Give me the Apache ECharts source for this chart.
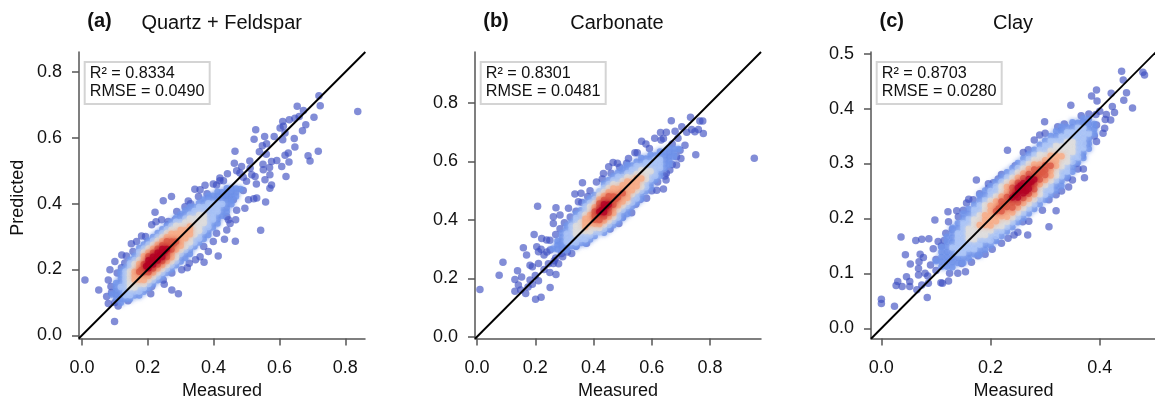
<!DOCTYPE html>
<html><head><meta charset="utf-8">
<style>html,body{margin:0;padding:0;background:#fff;overflow:hidden}#c{width:1155px;height:402px}</style>
<script src="https://cdn.jsdelivr.net/npm/echarts@6/dist/echarts.min.js"></script>
</head><body><div id="c"></div>
<script>
// Sparse points: [measured, predicted]
const quartzSparse=[[.009,.168],[.051,.138],[.099,.042],[.08,.168],[.085,.199],[.10,.224],[.121,.244],[.135,.241],[.166,.285],[.181,.302],[.212,.336],[.222,.374],[.247,.409],[.272,.422],[.242,.351],[.262,.346],[.283,.351],[.313,.391],[.323,.408],[.343,.444],[.354,.422],[.374,.456],[.384,.417],[.409,.457],[.419,.478],[.442,.491],[.463,.523],[.465,.559],[.485,.513],[.511,.508],[.539,.558],[.528,.625],[.523,.596],[.555,.604],[.548,.576],[.561,.582],[.584,.604],[.61,.65],[.612,.635],[.602,.63],[.63,.655],[.617,.615],[.61,.594],[.654,.696],[.647,.66],[.66,.665],[.673,.683],[.68,.64],[.67,.622],[.705,.663],[.72,.728],[.724,.698],[.838,.68],[.718,.559],[.687,.546],[.693,.53],[.645,.598],[.647,.572],[.627,.554],[.617,.547],[.629,.527],[.62,.483],[.607,.513],[.592,.531],[.576,.528],[.571,.488],[.576,.457],[.571,.447],[.556,.473],[.558,.405],[.531,.417],[.543,.319],[.466,.286],[.433,.292],[.414,.241],[.399,.285],[.384,.255],[.371,.222],[.359,.239],[.326,.219],[.303,.199],[.293,.126],[.273,.138],[.209,.126],[.212,.148],[.191,.14],[.247,.168],[.273,.189],[.44,.32],[.467,.351],[.445,.351],[.495,.386],[.506,.412],[.522,.415],[.46,.412],[.48,.493],[.5,.468],[.526,.483],[.551,.503],[.516,.488],[.409,.31],[.11,.089],[.08,.097],[.075,.118],[.088,.148],[.107,.189],[.127,.13],[.15,.278],[.193,.30],[.359,.442],[.399,.46],[.419,.47],[.333,.366],[.288,.376],[.225,.345],[.44,.36],[.47,.38],[.49,.44],[.53,.46],[.55,.52],[.49,.48],[.57,.51],[.45,.34],[.37,.27],[.345,.23],[.32,.205],[.25,.155],[.17,.13],[.14,.105],[.10,.10],[.09,.13],[.13,.22],[.12,.205],[.155,.255],[.20,.285],[.26,.335],[.30,.36],[.33,.40],[.38,.43],[.43,.47],[.47,.50],[.51,.53],[.56,.55]];
const carbonateSparse=[[.01,.162],[.076,.211],[.089,.255],[.13,.196],[.139,.226],[.13,.156],[.142,.177],[.159,.305],[.153,.205],[.17,.28],[.167,.148],[.182,.245],[.182,.194],[.201,.128],[.22,.135],[.211,.192],[.196,.35],[.222,.336],[.208,.447],[.271,.442],[.262,.411],[.262,.388],[.251,.169],[.271,.213],[.262,.251],[.211,.251],[.205,.308],[.211,.291],[.23,.28],[.239,.331],[.251,.297],[.294,.274],[.285,.417],[.314,.44],[.336,.489],[.357,.491],[.362,.527],[.348,.462],[.388,.5],[.434,.559],[.452,.582],[.467,.597],[.482,.594],[.514,.594],[.542,.63],[.565,.669],[.592,.645],[.63,.699],[.64,.679],[.667,.74],[.68,.704],[.703,.719],[.733,.752],[.765,.739],[.775,.739],[.737,.71],[.76,.71],[.748,.702],[.777,.696],[.751,.623],[.952,.611],[.714,.656],[.685,.588],[.649,.537],[.645,.55],[.64,.506],[.617,.502],[.582,.474],[.531,.425],[.487,.388],[.457,.369],[.545,.454],[.376,.32],[.325,.285],[.685,.616],[.662,.571],[.697,.639],[.632,.674],[.19,.24],[.20,.21],[.23,.23],[.245,.25],[.25,.22],[.265,.26],[.28,.25],[.24,.29],[.22,.30],[.25,.33],[.27,.35],[.285,.37],[.30,.39],[.32,.41],[.34,.43],[.36,.46],[.38,.48],[.41,.53],[.43,.54],[.46,.56],[.49,.58],[.52,.61],[.55,.63],[.58,.66],[.61,.68],[.65,.70],[.69,.68],[.72,.70],[.67,.66],[.70,.61],[.67,.59],[.65,.56],[.62,.53],[.60,.50],[.50,.41],[.56,.47],[.42,.37],[.34,.31],[.31,.29],[.29,.285],[.27,.27],[.175,.17],[.15,.16],[.19,.18]];
const claySparse=[[0,.053],[0,.045],[.024,.04],[.036,.166],[.03,.085],[.027,.078],[.038,.076],[.046,.094],[.052,.085],[.052,.076],[.044,.134],[.053,.117],[.063,.16],[.074,.162],[.087,.163],[.071,.135],[.069,.121],[.077,.129],[.068,.109],[.068,.097],[.065,.07],[.074,.079],[.084,.056],[.086,.082],[.098,.197],[.109,.083],[.112,.082],[.123,.086],[.154,.103],[.147,.118],[.177,.132],[.203,.144],[.208,.161],[.232,.164],[.243,.17],[.268,.17],[.259,.194],[.307,.185],[.32,.214],[.32,.243],[.307,.234],[.287,.232],[.343,.257],[.372,.274],[.37,.29],[.357,.30],[.341,.274],[.368,.314],[.394,.34],[.406,.355],[.409,.364],[.42,.379],[.427,.393],[.412,.389],[.394,.37],[.393,.389],[.385,.423],[.394,.434],[.395,.414],[.421,.428],[.423,.404],[.444,.415],[.449,.429],[.46,.401],[.44,.468],[.443,.452],[.479,.466],[.482,.461],[.347,.406],[.366,.387],[.299,.376],[.323,.367],[.335,.372],[.29,.352],[.28,.343],[.269,.325],[.231,.324],[.245,.296],[.174,.27],[.214,.272],[.196,.263],[.196,.255],[.168,.234],[.156,.228],[.138,.214],[.122,.212],[.123,.194],[.141,.203],[.118,.173],[.104,.158],[.08,.10],[.09,.115],[.10,.125],[.10,.105],[.085,.095],[.095,.145],[.11,.15],[.115,.16],[.13,.18],[.15,.215],[.16,.235],[.18,.245],[.205,.265],[.22,.28],[.26,.32],[.30,.355],[.33,.36],[.37,.375],[.38,.39],[.40,.395],[.41,.38],[.39,.35],[.375,.335],[.36,.29],[.35,.27],[.33,.25],[.295,.215],[.27,.195],[.25,.175],[.22,.155],[.19,.135],[.165,.12],[.14,.10],[.125,.10]];
// Dense cloud: [measured, predicted, density level 1-6]
const quartzDense=[
[.195,.21,6],[.209,.222,6],[.223,.233,6],[.237,.245,6],[.251,.256,6],[.181,.199,5],[.265,.267,5],[.279,.279,5],
[.09,.124,1],[.104,.135,1],[.118,.147,2],[.132,.158,2],[.146,.17,3],[.16,.181,4],[.174,.193,5],[.188,.204,5],[.202,.216,6],[.216,.227,6],[.23,.239,6],[.244,.25,6],[.258,.262,6],[.272,.273,5],[.286,.285,5],[.3,.296,4],[.314,.307,4],[.328,.319,4],[.342,.33,3],[.356,.342,3],[.37,.353,3],[.384,.365,2],[.398,.376,2],[.412,.388,2],[.426,.399,2],[.44,.411,1],[.454,.422,1],[.468,.434,1],[.482,.445,1],
[.104,.147,1],[.118,.159,1],[.132,.17,2],[.146,.182,3],[.16,.193,4],[.174,.205,4],[.188,.216,5],[.202,.228,6],[.216,.239,6],[.23,.251,6],[.244,.262,6],[.258,.274,5],[.272,.285,5],[.286,.297,4],[.3,.308,4],[.314,.319,4],[.328,.331,4],[.342,.342,3],[.356,.354,3],[.37,.365,3],[.384,.377,2],[.398,.388,2],[.412,.4,2],[.426,.411,1],[.44,.423,1],[.454,.434,1],[.468,.446,1],
[.104,.123,1],[.118,.135,1],[.132,.146,2],[.146,.158,3],[.16,.169,4],[.174,.181,4],[.188,.192,5],[.202,.204,6],[.216,.215,6],[.23,.227,6],[.244,.238,6],[.258,.25,5],[.272,.261,5],[.286,.273,4],[.3,.284,4],[.314,.295,4],[.328,.307,4],[.342,.318,3],[.356,.33,3],[.37,.341,3],[.384,.353,2],[.398,.364,2],[.412,.376,2],[.426,.387,1],[.44,.399,1],[.454,.41,1],[.468,.422,1],
[.104,.159,1],[.118,.171,1],[.132,.182,2],[.146,.194,3],[.16,.205,3],[.174,.217,4],[.188,.228,4],[.202,.24,5],[.216,.251,5],[.23,.263,5],[.244,.274,5],[.258,.286,5],[.272,.297,4],[.286,.309,4],[.3,.32,4],[.314,.331,3],[.328,.343,3],[.342,.354,3],[.356,.366,3],[.37,.377,2],[.384,.389,2],[.398,.4,2],[.412,.412,1],[.426,.423,1],[.44,.435,1],[.454,.446,1],
[.104,.111,1],[.118,.123,1],[.132,.134,2],[.146,.146,3],[.16,.157,3],[.174,.169,4],[.188,.18,4],[.202,.192,5],[.216,.203,5],[.23,.215,5],[.244,.226,5],[.258,.238,5],[.272,.249,4],[.286,.261,4],[.3,.272,4],[.314,.283,3],[.328,.295,3],[.342,.306,3],[.356,.318,3],[.37,.329,2],[.384,.341,2],[.398,.352,2],[.412,.364,1],[.426,.375,1],[.44,.387,1],[.454,.398,1],
[.118,.183,1],[.132,.194,2],[.146,.206,2],[.16,.217,3],[.174,.229,3],[.188,.24,4],[.202,.252,4],[.216,.263,4],[.23,.275,4],[.244,.286,4],[.258,.298,4],[.272,.309,4],[.286,.321,3],[.3,.332,3],[.314,.343,3],[.328,.355,3],[.342,.366,2],[.356,.378,2],[.37,.389,2],[.384,.401,2],[.398,.412,1],[.412,.424,1],[.426,.435,1],[.44,.447,1],
[.118,.111,1],[.132,.122,2],[.146,.134,2],[.16,.145,3],[.174,.157,3],[.188,.168,4],[.202,.18,4],[.216,.191,4],[.23,.203,4],[.244,.214,4],[.258,.226,4],[.272,.237,4],[.286,.249,3],[.3,.26,3],[.314,.271,3],[.328,.283,3],[.342,.294,2],[.356,.306,2],[.37,.317,2],[.384,.329,2],[.398,.34,1],[.412,.352,1],[.426,.363,1],[.44,.375,1],
[.118,.195,1],[.132,.206,1],[.146,.218,2],[.16,.229,2],[.174,.241,2],[.188,.252,3],[.202,.264,3],[.216,.275,3],[.23,.287,3],[.244,.298,3],[.258,.31,3],[.272,.321,3],[.286,.333,3],[.3,.344,2],[.314,.355,2],[.328,.367,2],[.342,.378,2],[.356,.39,2],[.37,.401,1],[.384,.413,1],[.398,.424,1],[.412,.436,1],
[.118,.099,1],[.132,.11,1],[.146,.122,2],[.16,.133,2],[.174,.145,2],[.188,.156,3],[.202,.168,3],[.216,.179,3],[.23,.191,3],[.244,.202,3],[.258,.214,3],[.272,.225,3],[.286,.237,3],[.3,.248,2],[.314,.259,2],[.328,.271,2],[.342,.282,2],[.356,.294,2],[.37,.305,1],[.384,.317,1],[.398,.328,1],[.412,.34,1],
[.146,.23,1],[.16,.241,1],[.174,.253,2],[.188,.264,2],[.202,.276,2],[.216,.287,2],[.23,.299,2],[.244,.31,2],[.258,.322,2],[.272,.333,2],[.286,.345,2],[.3,.356,1],[.314,.367,1],[.328,.379,1],[.342,.39,1],[.356,.402,1],[.37,.413,1],[.384,.425,1],
[.146,.11,1],[.16,.121,1],[.174,.133,2],[.188,.144,2],[.202,.156,2],[.216,.167,2],[.23,.179,2],[.244,.19,2],[.258,.202,2],[.272,.213,2],[.286,.225,2],[.3,.236,1],[.314,.247,1],[.328,.259,1],[.342,.27,1],[.356,.282,1],[.37,.293,1],[.384,.305,1],
[.174,.265,1],[.188,.276,1],[.202,.288,1],[.216,.299,1],[.23,.311,1],[.244,.322,1],[.258,.334,1],[.272,.345,1],[.286,.357,1],[.3,.368,1],[.314,.379,1],[.328,.391,1],
[.174,.121,1],[.188,.132,1],[.202,.144,1],[.216,.155,1],[.23,.167,1],[.244,.178,1],[.258,.19,1],[.272,.201,1],[.286,.213,1],[.3,.224,1],[.314,.235,1],[.328,.247,1]];
const carbonateDense=[
[.428,.434,6],[.444,.447,6],[.412,.421,5],[.46,.46,5],[.476,.472,5],
[.26,.301,1],[.276,.314,1],[.292,.327,1],[.308,.339,2],[.324,.352,2],[.34,.365,3],[.356,.377,3],[.372,.39,4],[.388,.403,4],[.404,.415,5],[.42,.428,6],[.436,.44,6],[.452,.453,6],[.468,.466,5],[.484,.478,5],[.5,.491,5],[.516,.504,4],[.532,.516,4],[.548,.529,4],[.564,.542,4],[.58,.554,3],[.596,.567,3],[.612,.579,2],[.628,.592,2],[.644,.605,1],[.66,.617,1],[.676,.63,1],[.692,.643,1],
[.276,.328,1],[.292,.341,1],[.308,.353,2],[.324,.366,2],[.34,.379,3],[.356,.391,3],[.372,.404,4],[.388,.417,4],[.404,.429,5],[.42,.442,5],[.436,.454,6],[.452,.467,5],[.468,.48,5],[.484,.492,4],[.5,.505,4],[.516,.518,4],[.532,.53,4],[.548,.543,4],[.564,.556,3],[.58,.568,3],[.596,.581,2],[.612,.593,2],[.628,.606,2],[.644,.619,1],[.66,.631,1],[.676,.644,1],
[.276,.3,1],[.292,.313,1],[.308,.325,2],[.324,.338,2],[.34,.351,3],[.356,.363,3],[.372,.376,4],[.388,.389,4],[.404,.401,5],[.42,.414,5],[.436,.426,6],[.452,.439,5],[.468,.452,5],[.484,.464,4],[.5,.477,4],[.516,.49,4],[.532,.502,4],[.548,.515,4],[.564,.528,3],[.58,.54,3],[.596,.553,2],[.612,.565,2],[.628,.578,2],[.644,.591,1],[.66,.603,1],[.676,.616,1],
[.292,.355,1],[.308,.367,1],[.324,.38,2],[.34,.393,2],[.356,.405,2],[.372,.418,3],[.388,.431,3],[.404,.443,4],[.42,.456,5],[.436,.468,5],[.452,.481,5],[.468,.494,4],[.484,.506,4],[.5,.519,4],[.516,.532,4],[.532,.544,3],[.548,.557,3],[.564,.57,3],[.58,.582,2],[.596,.595,2],[.612,.607,2],[.628,.62,1],[.644,.633,1],[.66,.645,1],
[.292,.299,1],[.308,.311,1],[.324,.324,2],[.34,.337,2],[.356,.349,2],[.372,.362,3],[.388,.375,3],[.404,.387,4],[.42,.4,5],[.436,.412,5],[.452,.425,5],[.468,.438,4],[.484,.45,4],[.5,.463,4],[.516,.476,4],[.532,.488,3],[.548,.501,3],[.564,.514,3],[.58,.526,2],[.596,.539,2],[.612,.551,2],[.628,.564,1],[.644,.577,1],[.66,.589,1],
[.308,.381,1],[.324,.394,1],[.34,.407,2],[.356,.419,2],[.372,.432,2],[.388,.445,3],[.404,.457,3],[.42,.47,4],[.436,.482,4],[.452,.495,4],[.468,.508,4],[.484,.52,3],[.5,.533,3],[.516,.546,3],[.532,.558,2],[.548,.571,2],[.564,.584,2],[.58,.596,2],[.596,.609,1],[.612,.621,1],[.628,.634,1],
[.308,.297,1],[.324,.31,1],[.34,.323,2],[.356,.335,2],[.372,.348,2],[.388,.361,3],[.404,.373,3],[.42,.386,4],[.436,.398,4],[.452,.411,4],[.468,.424,4],[.484,.436,3],[.5,.449,3],[.516,.462,3],[.532,.474,2],[.548,.487,2],[.564,.5,2],[.58,.512,2],[.596,.525,1],[.612,.537,1],[.628,.55,1],
[.34,.421,1],[.356,.433,1],[.372,.446,2],[.388,.459,2],[.404,.471,2],[.42,.484,3],[.436,.496,3],[.452,.509,3],[.468,.522,3],[.484,.534,2],[.5,.547,2],[.516,.56,2],[.532,.572,2],[.548,.585,2],[.564,.598,1],[.58,.61,1],[.596,.623,1],
[.34,.309,1],[.356,.321,1],[.372,.334,2],[.388,.347,2],[.404,.359,2],[.42,.372,3],[.436,.384,3],[.452,.397,3],[.468,.41,3],[.484,.422,2],[.5,.435,2],[.516,.448,2],[.532,.46,2],[.548,.473,2],[.564,.486,1],[.58,.498,1],[.596,.511,1],
[.372,.46,1],[.388,.473,1],[.404,.485,1],[.42,.498,2],[.436,.51,2],[.452,.523,2],[.468,.536,2],[.484,.548,2],[.5,.561,1],[.516,.574,1],[.532,.586,1],[.548,.599,1],[.564,.612,1],
[.372,.32,1],[.388,.333,1],[.404,.345,1],[.42,.358,2],[.436,.37,2],[.452,.383,2],[.468,.396,2],[.484,.408,2],[.5,.421,1],[.516,.434,1],[.532,.446,1],[.548,.459,1],[.564,.472,1],
[.436,.524,1],[.452,.537,1],[.468,.55,1],[.484,.562,1],[.5,.575,1],[.516,.588,1],
[.436,.356,1],[.452,.369,1],[.468,.382,1],[.484,.394,1],[.5,.407,1],[.516,.42,1]];
const clayDense=[
[.245,.242,6],[.255,.251,6],[.265,.259,6],[.275,.267,6],[.235,.234,5],[.225,.226,5],[.285,.276,5],[.295,.284,5],[.215,.218,5],[.255,.26,6],[.265,.25,6],[.245,.251,5],[.275,.258,5],
[.1,.122,1],[.11,.13,1],[.12,.139,1],[.13,.147,2],[.14,.155,2],[.15,.164,2],[.16,.172,3],[.17,.18,3],[.18,.188,4],[.19,.197,4],[.2,.205,4],[.21,.213,5],[.22,.222,5],[.23,.23,5],[.24,.238,6],[.25,.247,6],[.26,.255,6],[.27,.263,6],[.28,.271,6],[.29,.28,5],[.3,.288,5],[.31,.296,5],[.32,.305,4],[.33,.313,4],[.34,.321,3],[.35,.33,3],[.36,.338,2],[.37,.346,2],[.38,.354,2],[.39,.363,1],
[.11,.139,1],[.12,.148,1],[.13,.156,1],[.14,.164,2],[.15,.173,2],[.16,.181,3],[.17,.189,3],[.18,.197,3],[.19,.206,4],[.2,.214,4],[.21,.222,4],[.22,.231,5],[.23,.239,5],[.24,.247,5],[.25,.256,6],[.26,.264,6],[.27,.272,6],[.28,.28,5],[.29,.289,5],[.3,.297,5],[.31,.305,4],[.32,.314,4],[.33,.322,3],[.34,.33,3],[.35,.339,3],[.36,.347,2],[.37,.355,2],[.38,.363,1],[.39,.372,1],
[.11,.121,1],[.12,.13,1],[.13,.138,1],[.14,.146,2],[.15,.155,2],[.16,.163,3],[.17,.171,3],[.18,.179,3],[.19,.188,4],[.2,.196,4],[.21,.204,4],[.22,.213,5],[.23,.221,5],[.24,.229,5],[.25,.238,6],[.26,.246,6],[.27,.254,6],[.28,.262,5],[.29,.271,5],[.3,.279,5],[.31,.287,4],[.32,.296,4],[.33,.304,3],[.34,.312,3],[.35,.321,3],[.36,.329,2],[.37,.337,2],[.38,.345,1],[.39,.354,1],
[.11,.148,1],[.12,.157,1],[.13,.165,1],[.14,.173,2],[.15,.182,2],[.16,.19,2],[.17,.198,3],[.18,.206,3],[.19,.215,3],[.2,.223,4],[.21,.231,4],[.22,.24,4],[.23,.248,4],[.24,.256,5],[.25,.265,5],[.26,.273,5],[.27,.281,5],[.28,.289,5],[.29,.298,4],[.3,.306,4],[.31,.314,4],[.32,.323,3],[.33,.331,3],[.34,.339,3],[.35,.348,2],[.36,.356,2],[.37,.364,2],[.38,.372,1],
[.11,.112,1],[.12,.121,1],[.13,.129,1],[.14,.137,2],[.15,.146,2],[.16,.154,2],[.17,.162,3],[.18,.17,3],[.19,.179,3],[.2,.187,4],[.21,.195,4],[.22,.204,4],[.23,.212,4],[.24,.22,5],[.25,.229,5],[.26,.237,5],[.27,.245,5],[.28,.253,5],[.29,.262,4],[.3,.27,4],[.31,.278,4],[.32,.287,3],[.33,.295,3],[.34,.303,3],[.35,.312,2],[.36,.32,2],[.37,.328,2],[.38,.336,1],
[.12,.166,1],[.13,.174,1],[.14,.182,1],[.15,.191,2],[.16,.199,2],[.17,.207,2],[.18,.215,2],[.19,.224,3],[.2,.232,3],[.21,.24,3],[.22,.249,3],[.23,.257,4],[.24,.265,4],[.25,.274,4],[.26,.282,4],[.27,.29,4],[.28,.298,4],[.29,.307,3],[.3,.315,3],[.31,.323,3],[.32,.332,3],[.33,.34,2],[.34,.348,2],[.35,.357,2],[.36,.365,2],[.37,.373,1],[.38,.381,1],
[.12,.112,1],[.13,.12,1],[.14,.128,1],[.15,.137,2],[.16,.145,2],[.17,.153,2],[.18,.161,2],[.19,.17,3],[.2,.178,3],[.21,.186,3],[.22,.195,3],[.23,.203,4],[.24,.211,4],[.25,.22,4],[.26,.228,4],[.27,.236,4],[.28,.244,4],[.29,.253,3],[.3,.261,3],[.31,.269,3],[.32,.278,3],[.33,.286,2],[.34,.294,2],[.35,.303,2],[.36,.311,2],[.37,.319,1],[.38,.327,1],
[.13,.183,1],[.14,.191,1],[.15,.2,1],[.16,.208,1],[.17,.216,2],[.18,.224,2],[.19,.233,2],[.2,.241,2],[.21,.249,2],[.22,.258,3],[.23,.266,3],[.24,.274,3],[.25,.283,3],[.26,.291,3],[.27,.299,3],[.28,.307,3],[.29,.316,3],[.3,.324,2],[.31,.332,2],[.32,.341,2],[.33,.349,2],[.34,.357,2],[.35,.366,1],[.36,.374,1],[.37,.382,1],
[.13,.111,1],[.14,.119,1],[.15,.128,1],[.16,.136,1],[.17,.144,2],[.18,.152,2],[.19,.161,2],[.2,.169,2],[.21,.177,2],[.22,.186,3],[.23,.194,3],[.24,.202,3],[.25,.211,3],[.26,.219,3],[.27,.227,3],[.28,.235,3],[.29,.244,3],[.3,.252,2],[.31,.26,2],[.32,.269,2],[.33,.277,2],[.34,.285,2],[.35,.294,1],[.36,.302,1],[.37,.31,1],
[.15,.209,1],[.16,.217,1],[.17,.225,1],[.18,.233,1],[.19,.242,1],[.2,.25,2],[.21,.258,2],[.22,.267,2],[.23,.275,2],[.24,.283,2],[.25,.292,2],[.26,.3,2],[.27,.308,2],[.28,.316,2],[.29,.325,2],[.3,.333,2],[.31,.341,2],[.32,.35,1],[.33,.358,1],[.34,.366,1],[.35,.375,1],
[.15,.119,1],[.16,.127,1],[.17,.135,1],[.18,.143,1],[.19,.152,1],[.2,.16,2],[.21,.168,2],[.22,.177,2],[.23,.185,2],[.24,.193,2],[.25,.202,2],[.26,.21,2],[.27,.218,2],[.28,.226,2],[.29,.235,2],[.3,.243,2],[.31,.251,2],[.32,.26,1],[.33,.268,1],[.34,.276,1],[.35,.285,1],
[.18,.242,1],[.19,.251,1],[.2,.259,1],[.21,.267,1],[.22,.276,1],[.23,.284,1],[.24,.292,1],[.25,.301,1],[.26,.309,1],[.27,.317,1],[.28,.325,1],[.29,.334,1],[.3,.342,1],[.31,.35,1],[.32,.359,1],[.33,.367,1],
[.18,.134,1],[.19,.143,1],[.2,.151,1],[.21,.159,1],[.22,.168,1],[.23,.176,1],[.24,.184,1],[.25,.193,1],[.26,.201,1],[.27,.209,1],[.28,.217,1],[.29,.226,1],[.3,.234,1],[.31,.242,1],[.32,.251,1],[.33,.259,1]];

const panelLetters=['(a)','(b)','(c)'];
const panelTitles=['Quartz + Feldspar','Carbonate','Clay'];
const statTexts=['R² = 0.8334\nRMSE = 0.0490','R² = 0.8301\nRMSE = 0.0481','R² = 0.8703\nRMSE = 0.0280'];
const xTicks=[[0,.2,.4,.6,.8],[0,.2,.4,.6,.8],[0,.2,.4]];
const yTicks=[[0,.2,.4,.6,.8],[0,.2,.4,.6,.8],[0,.1,.2,.3,.4,.5]];
const xRanges=[[-.009,.86],[-.007,.975],[-.019,.503]];
const yRanges=[[-.0097,.861],[-.006,.975],[-.0186,.503]];
const sparseSets=[quartzSparse,carbonateSparse,claySparse];
const denseSets=[quartzDense,carbonateDense,clayDense];

const grids=[{left:79,top:52,width:286,height:286.5},{left:475,top:52,width:286,height:286.5},{left:871,top:52,width:285,height:286.5}].map(g=>Object.assign(g,{outerBoundsMode:'none'}));
const letterX=[99.5,496,891.7], titleX=[221.7,617,1013], boxX=[84.7,480.7,876.7];
const palette=['rgba(59,76,192,.8)','#7093ea','#a9c3f6','#dddcdc','#f6ad88','#dc5a45','#b40426'];
const ink='#111';
const axisBase={type:'value',axisLine:{show:true,onZero:false,lineStyle:{color:'#555',width:1.5}},splitLine:{show:false},
  nameTextStyle:{fontFamily:'Liberation Sans',fontSize:18,color:ink}};
const fmt=v=>v.toFixed(1);
const mk=(ticks,range,gridIdx,margin,extra)=>Object.assign({},axisBase,{gridIndex:gridIdx,min:range[0],max:range[1],
  axisTick:{show:true,length:7,lineStyle:{color:'#555',width:1.5},customValues:ticks},
  axisLabel:{show:true,margin:margin,fontFamily:'Liberation Sans',fontSize:18,color:ink,customValues:ticks,formatter:fmt}},extra);
const titles=[];const series=[];const xAxes=[];const yAxes=[];
panelTitles.forEach((t,i)=>{
  titles.push({text:panelLetters[i],left:letterX[i],top:11,textAlign:'center',padding:0,textStyle:{fontFamily:'Liberation Sans',fontSize:20,fontWeight:'bold',color:ink}});
  titles.push({text:t,left:titleX[i],top:13,textAlign:'center',padding:0,textStyle:{fontFamily:'Liberation Sans',fontSize:20,fontWeight:'normal',color:ink}});
  titles.push({text:statTexts[i],left:boxX[i],top:62,padding:[3,6,3,5],borderColor:'#d4d4d4',borderWidth:2,backgroundColor:'#fff',z:10,
    textStyle:{fontFamily:'Liberation Sans',fontSize:16.2,fontWeight:'normal',lineHeight:18,color:ink}});
  xAxes.push(mk(xTicks[i],xRanges[i],i,21,{name:'Measured',nameLocation:'middle',nameGap:42}));
  yAxes.push(mk(yTicks[i],yRanges[i],i,17,i===0?{name:'Predicted',nameLocation:'middle',nameGap:52,
    nameTextStyle:{fontFamily:'Liberation Sans',fontSize:18,color:ink,padding:[0,5,0,0]}}:{}));
  const pts=sparseSets[i].map(p=>[p[0],p[1],0]).concat(denseSets[i]).sort((a,b)=>a[2]-b[2]).map(p=>{
    const c=palette[p[2]];
    return {value:p,symbolSize:p[2]>0?6.5:7.5,itemStyle:p[2]>0?{color:c,shadowColor:c,shadowBlur:4}:{color:c}};
  });
  series.push({type:'scatter',xAxisIndex:i,yAxisIndex:i,silent:true,large:false,data:pts});
  const lo=Math.min(xRanges[i][0],yRanges[i][0]),hi=Math.max(xRanges[i][1],yRanges[i][1]);
  series.push({type:'line',xAxisIndex:i,yAxisIndex:i,data:[[lo,lo],[hi,hi]],showSymbol:false,silent:true,clip:true,lineStyle:{color:'#000',width:1.9}});
});
const chart=echarts.init(document.getElementById('c'),null,{renderer:'canvas'});
chart.setOption({animation:false,backgroundColor:'#fff',title:titles,grid:grids,xAxis:xAxes,yAxis:yAxes,series:series,tooltip:{show:false}});
</script></body></html>
